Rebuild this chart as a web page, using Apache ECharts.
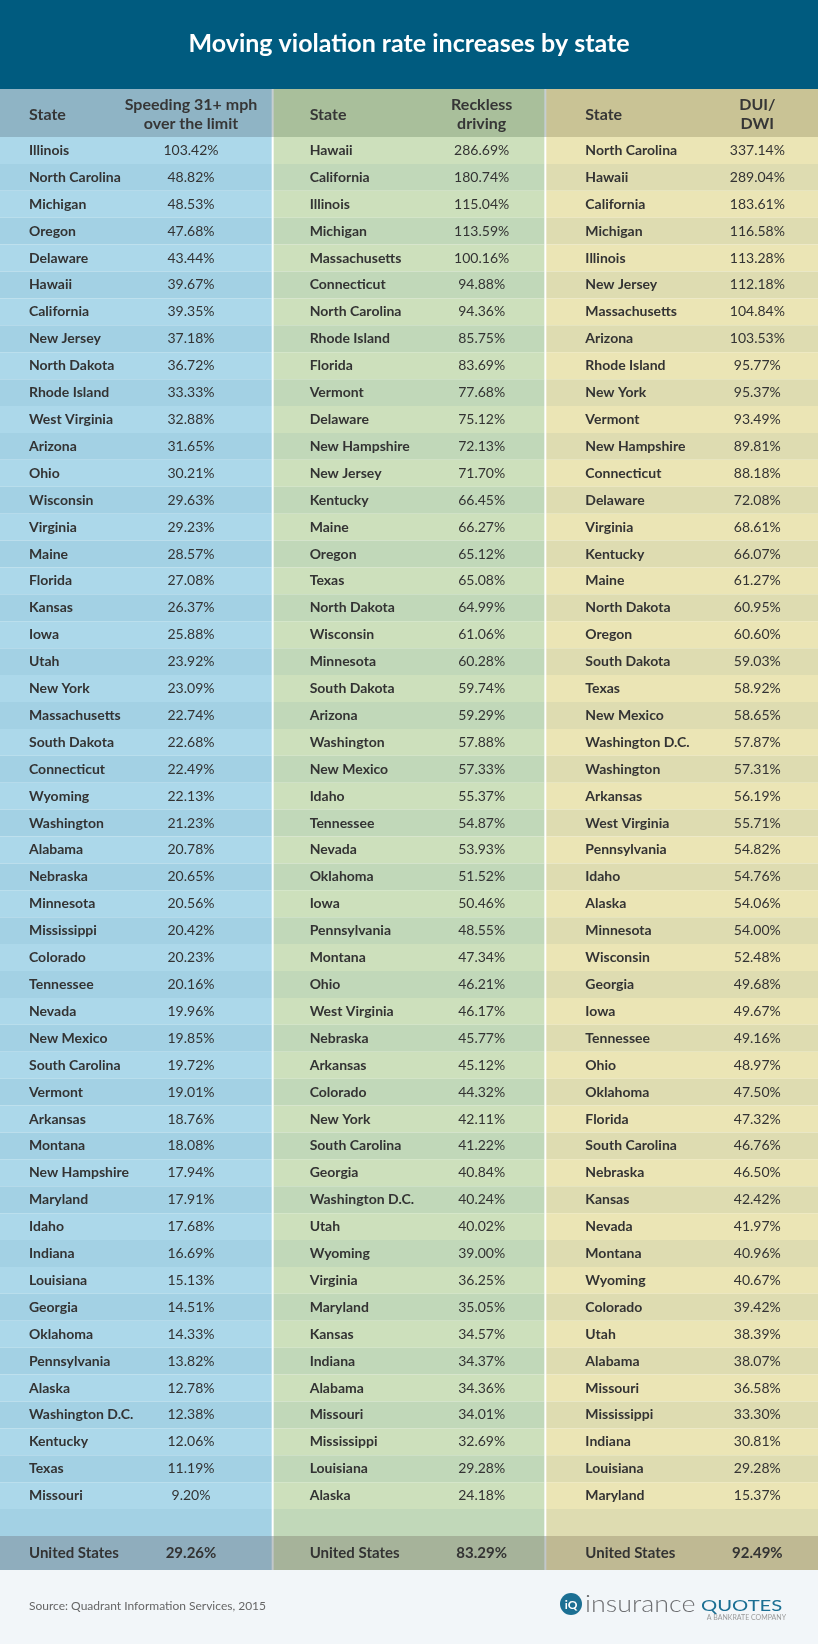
<!DOCTYPE html>
<html>
<head>
<meta charset="utf-8">
<script src="https://cdn.jsdelivr.net/npm/echarts@6/dist/echarts.min.js"></script>
<style>
html,body{margin:0;padding:0;background:#ffffff;}
#chart{width:818px;height:1644px;}
</style>
</head>
<body>
<div id="chart"></div>
<script>
// ---- Data ----
const panelKeys = ['Speeding', 'Reckless', 'DUI'];
const headerTitles = ['Speeding 31+ mph\nover the limit', 'Reckless\ndriving', 'DUI/\nDWI'];

const speedingStates = ['Illinois','North Carolina','Michigan','Oregon','Delaware','Hawaii','California','New Jersey','North Dakota','Rhode Island','West Virginia','Arizona','Ohio','Wisconsin','Virginia','Maine','Florida','Kansas','Iowa','Utah','New York','Massachusetts','South Dakota','Connecticut','Wyoming','Washington','Alabama','Nebraska','Minnesota','Mississippi','Colorado','Tennessee','Nevada','New Mexico','South Carolina','Vermont','Arkansas','Montana','New Hampshire','Maryland','Idaho','Indiana','Louisiana','Georgia','Oklahoma','Pennsylvania','Alaska','Washington D.C.','Kentucky','Texas','Missouri'];
const speedingValues = [103.42,48.82,48.53,47.68,43.44,39.67,39.35,37.18,36.72,33.33,32.88,31.65,30.21,29.63,29.23,28.57,27.08,26.37,25.88,23.92,23.09,22.74,22.68,22.49,22.13,21.23,20.78,20.65,20.56,20.42,20.23,20.16,19.96,19.85,19.72,19.01,18.76,18.08,17.94,17.91,17.68,16.69,15.13,14.51,14.33,13.82,12.78,12.38,12.06,11.19,9.20];

const recklessStates = ['Hawaii','California','Illinois','Michigan','Massachusetts','Connecticut','North Carolina','Rhode Island','Florida','Vermont','Delaware','New Hampshire','New Jersey','Kentucky','Maine','Oregon','Texas','North Dakota','Wisconsin','Minnesota','South Dakota','Arizona','Washington','New Mexico','Idaho','Tennessee','Nevada','Oklahoma','Iowa','Pennsylvania','Montana','Ohio','West Virginia','Nebraska','Arkansas','Colorado','New York','South Carolina','Georgia','Washington D.C.','Utah','Wyoming','Virginia','Maryland','Kansas','Indiana','Alabama','Missouri','Mississippi','Louisiana','Alaska'];
const recklessValues = [286.69,180.74,115.04,113.59,100.16,94.88,94.36,85.75,83.69,77.68,75.12,72.13,71.70,66.45,66.27,65.12,65.08,64.99,61.06,60.28,59.74,59.29,57.88,57.33,55.37,54.87,53.93,51.52,50.46,48.55,47.34,46.21,46.17,45.77,45.12,44.32,42.11,41.22,40.84,40.24,40.02,39.00,36.25,35.05,34.57,34.37,34.36,34.01,32.69,29.28,24.18];

const duiStates = ['North Carolina','Hawaii','California','Michigan','Illinois','New Jersey','Massachusetts','Arizona','Rhode Island','New York','Vermont','New Hampshire','Connecticut','Delaware','Virginia','Kentucky','Maine','North Dakota','Oregon','South Dakota','Texas','New Mexico','Washington D.C.','Washington','Arkansas','West Virginia','Pennsylvania','Idaho','Alaska','Minnesota','Wisconsin','Georgia','Iowa','Tennessee','Ohio','Oklahoma','Florida','South Carolina','Nebraska','Kansas','Nevada','Montana','Wyoming','Colorado','Utah','Alabama','Missouri','Mississippi','Indiana','Louisiana','Maryland'];
const duiValues = [337.14,289.04,183.61,116.58,113.28,112.18,104.84,103.53,95.77,95.37,93.49,89.81,88.18,72.08,68.61,66.07,61.27,60.95,60.60,59.03,58.92,58.65,57.87,57.31,56.19,55.71,54.82,54.76,54.06,54.00,52.48,49.68,49.67,49.16,48.97,47.50,47.32,46.76,46.50,42.42,41.97,40.96,40.67,39.42,38.39,38.07,36.58,33.30,30.81,29.28,15.37];

const usLabel = 'United States';
const usValues = [29.26, 83.29, 92.49];

// ---- Layout / style ----
const allStates = [speedingStates, recklessStates, duiStates];
const allValues = [speedingValues, recklessValues, duiValues];
const rowCount = speedingStates.length + 1; // one empty row at bottom
const rowCats = Array.from({length: rowCount}, (_, i) => String(i));

const FONT = 'Lato, "Open Sans", sans-serif';
const stateOff = [29, 37, 40];
const valueOff = [191, 209, 212];
const bodyColors = [['#acd8ea', '#a3d1e4'], ['#cde0bc', '#c1d8b9'], ['#ebe5b5', '#dedcb1']];
const headColors = ['#8fb4c5', '#a9bf9b', '#c9c395'];
const usColors = ['#8fadbd', '#a6b39a', '#bfb993'];

function cellRect(api, p, r) {
  const c = api.coord([p, r]);
  const s = api.size([1, 1]);
  const left = c[0] - s[0] / 2;
  const x0 = left + (p > 0 ? 1 : 0);
  const x1 = left + s[0] - (p < 2 ? 1 : 0);
  return {left: left, x0: x0, w: x1 - x0, y: c[1] - s[1] / 2, h: s[1], cy: c[1]};
}

const bodyData = [];
for (let p = 0; p < 3; p++) {
  for (let r = 0; r < rowCount; r++) bodyData.push([p, r]);
}
const headData = [[0, 0], [1, 0], [2, 0]];

const chart = echarts.init(document.getElementById('chart'), null, {renderer: 'canvas'});

const mkX = (gi) => ({type: 'category', gridIndex: gi, data: panelKeys, show: false, boundaryGap: true});
const mkY = (gi, data) => ({type: 'category', gridIndex: gi, data: data, inverse: true, show: false, boundaryGap: true});

chart.setOption({
  backgroundColor: '#ffffff',
  animation: false,
  grid: [
    {left: 0, right: 0, top: 89, height: 48},
    {left: 0, right: 0, top: 137, height: 1399},
    {left: 0, right: 0, top: 1536, height: 34}
  ],
  xAxis: [mkX(0), mkX(1), mkX(2)],
  yAxis: [mkY(0, ['h']), mkY(1, rowCats), mkY(2, ['us'])],
  graphic: [
    {type: 'rect', z: 0, shape: {x: 0, y: 0, width: 818, height: 89}, style: {fill: '#005b7f'}},
    {type: 'text', z: 1, x: 409, y: 44, style: {text: 'Moving violation rate increases by state', fill: '#ffffff', font: 'bold 25px ' + FONT, textAlign: 'center', textVerticalAlign: 'middle'}},
    {type: 'rect', z: 0, shape: {x: 0, y: 89, width: 818, height: 48}, style: {fill: '#c6ced1'}},
    {type: 'rect', z: 0, shape: {x: 0, y: 1536, width: 818, height: 34}, style: {fill: '#c2c7ca'}},
    {type: 'rect', z: 0, shape: {x: 0, y: 1570, width: 818, height: 74}, style: {fill: '#f2f6f9'}},
    {type: 'text', z: 1, x: 29, y: 1606, style: {text: 'Source: Quadrant Information Services, 2015', fill: '#666666', font: '12px ' + FONT, textVerticalAlign: 'middle'}},
    {type: 'circle', z: 1, shape: {cx: 571, cy: 1604, r: 11}, style: {fill: '#1b6f93'}},
    {type: 'text', z: 2, x: 571, y: 1605, style: {text: 'iQ', fill: '#ffffff', font: 'bold 12px ' + FONT, textAlign: 'center', textVerticalAlign: 'middle'}},
    {type: 'text', z: 1, x: 585, y: 1604, scaleX: 1.12, style: {text: 'insurance', fill: '#6d6e71', font: '300 24px ' + FONT, textVerticalAlign: 'middle'}},
    {type: 'text', z: 1, x: 701, y: 1606, scaleX: 1.35, style: {text: 'QUOTES', fill: '#1b6f93', font: '15px ' + FONT, textVerticalAlign: 'middle'}},
    {type: 'text', z: 1, x: 786, y: 1618, style: {text: 'A BANKRATE COMPANY', fill: '#9a9a9a', font: '7px ' + FONT, textAlign: 'right', textVerticalAlign: 'middle'}}
  ],
  series: [
    {
      type: 'custom', xAxisIndex: 0, yAxisIndex: 0, data: headData,
      renderItem: function (params, api) {
        const p = params.dataIndex;
        const c = cellRect(api, p, 0);
        return {type: 'group', children: [
          {type: 'rect', shape: {x: c.x0, y: c.y, width: c.w, height: c.h}, style: {fill: headColors[p]}},
          {type: 'text', style: {text: 'State', x: c.left + stateOff[p], y: c.cy + 2, fill: '#363636', font: 'bold 16px ' + FONT, textVerticalAlign: 'middle'}},
          {type: 'text', style: {text: headerTitles[p], x: c.left + valueOff[p], y: c.cy + 1, fill: '#363636', font: 'bold 16px ' + FONT, lineHeight: 19, textAlign: 'center', textVerticalAlign: 'middle'}}
        ]};
      }
    },
    {
      type: 'custom', xAxisIndex: 1, yAxisIndex: 1, data: bodyData,
      renderItem: function (params, api) {
        const d = bodyData[params.dataIndex];
        const p = d[0], r = d[1];
        const c = cellRect(api, p, r);
        const children = [
          {type: 'rect', shape: {x: c.x0, y: c.y, width: c.w, height: c.h}, style: {fill: bodyColors[p][r % 2]}}
        ];
        if (r < allStates[p].length) {
          children.push({type: 'text', style: {text: allStates[p][r], x: c.left + stateOff[p], y: c.cy, fill: '#333333', font: 'bold 14px ' + FONT, textVerticalAlign: 'middle'}});
          children.push({type: 'text', style: {text: allValues[p][r].toFixed(2) + '%', x: c.left + valueOff[p], y: c.cy, fill: '#333333', font: '14px ' + FONT, textAlign: 'center', textVerticalAlign: 'middle'}});
        }
        return {type: 'group', children: children};
      }
    },
    {
      type: 'custom', xAxisIndex: 2, yAxisIndex: 2, data: headData,
      renderItem: function (params, api) {
        const p = params.dataIndex;
        const c = cellRect(api, p, 0);
        return {type: 'group', children: [
          {type: 'rect', shape: {x: c.x0, y: c.y, width: c.w, height: c.h}, style: {fill: usColors[p]}},
          {type: 'text', style: {text: usLabel, x: c.left + stateOff[p], y: c.cy, fill: '#333333', font: 'bold 15px ' + FONT, textVerticalAlign: 'middle'}},
          {type: 'text', style: {text: usValues[p].toFixed(2) + '%', x: c.left + valueOff[p], y: c.cy, fill: '#333333', font: 'bold 15px ' + FONT, textAlign: 'center', textVerticalAlign: 'middle'}}
        ]};
      }
    }
  ]
});
</script>
</body>
</html>
